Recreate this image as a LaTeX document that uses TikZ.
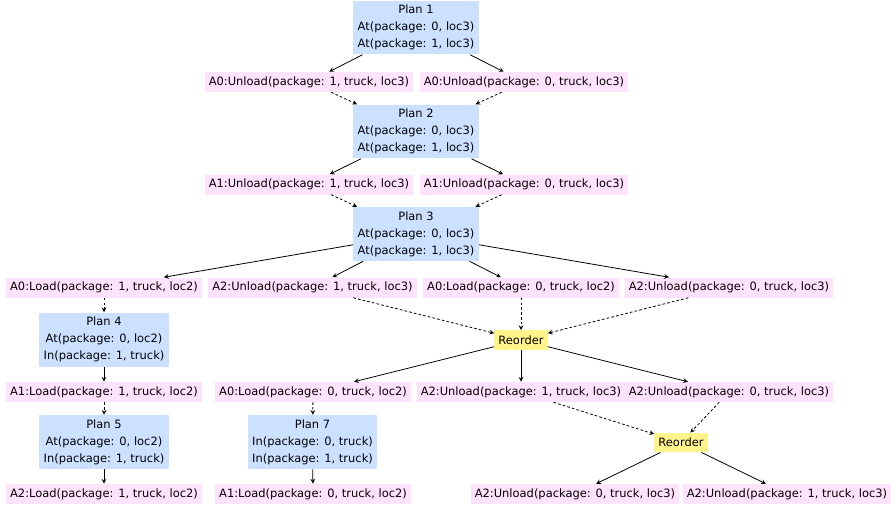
\documentclass[tikz,border=0pt]{standalone}
\usepackage{fontspec}
\setmainfont{DejaVu Sans}
\usepackage{tikz}
\usetikzlibrary{shapes.geometric, arrows}
\definecolor{planblue}{RGB}{204,225,255}
\definecolor{actpink}{RGB}{255,226,252}
\definecolor{reoyellow}{RGB}{255,244,140}
\tikzstyle{planbox} = [rectangle, minimum width=94pt, minimum height=39pt, fill=planblue, align=center]
\tikzstyle{actbox} = [rectangle, inner xsep=3pt, inner ysep=0pt, minimum height=15pt, fill=actpink]
\tikzstyle{reorderbox} = [rectangle, inner xsep=3pt, inner ysep=0pt, minimum height=14.5pt, fill=reoyellow]
\tikzstyle{arrow} = [line width=0.6pt,->,>=stealth]
\tikzstyle{dasharrow} = [arrow, dash pattern=on 2pt off 1.6pt]

\begin{document}
\begin{tikzpicture}[x=0.75pt, y=-0.75pt, font=\fontsize{8.6}{12.75}\selectfont]
  \useasboundingbox (0,0) rectangle (891,504);

  % plans
  \node (plan1) [planbox] at (416,27.5) {Plan 1\\At(package: 0, loc3)\\At(package: 1, loc3)};
  \node (plan2) [planbox] at (416,131.5) {Plan 2\\At(package: 0, loc3)\\At(package: 1, loc3)};
  \node (plan3) [planbox] at (416,234) {Plan 3\\At(package: 0, loc3)\\At(package: 1, loc3)};
  \node (plan4) [planbox] at (104,339.5) {Plan 4\\At(package: 0, loc2)\\In(package: 1, truck)};
  \node (plan5) [planbox] at (104,442) {Plan 5\\At(package: 0, loc2)\\In(package: 1, truck)};
  \node (plan7) [planbox] at (312.5,442) {Plan 7\\In(package: 0, truck)\\In(package: 1, truck)};

  % reorder nodes
  \node (reorder1) [reorderbox] at (521,340) {Reorder};
  \node (reorder2) [reorderbox] at (681,442.5) {Reorder};

  % actions
  \node (a0unloadA) [actbox] at (309,82) {A0:Unload(package: 1, truck, loc3)};
  \node (a0unloadB) [actbox] at (524,82) {A0:Unload(package: 0, truck, loc3)};
  \node (a1unloadA) [actbox] at (309,184.5) {A1:Unload(package: 1, truck, loc3)};
  \node (a1unloadB) [actbox] at (524,184.5) {A1:Unload(package: 0, truck, loc3)};
  \node (a0loadA) [actbox] at (104,287.5) {A0:Load(package: 1, truck, loc2)};
  \node (a2unloadA) [actbox] at (312.5,287.5) {A2:Unload(package: 1, truck, loc3)};
  \node (a0loadB) [actbox] at (521,287.5) {A0:Load(package: 0, truck, loc2)};
  \node (a2unloadB) [actbox] at (729,287.5) {A2:Unload(package: 0, truck, loc3)};
  \node (a1loadA) [actbox] at (104,392) {A1:Load(package: 1, truck, loc2)};
  \node (a0loadC) [actbox] at (313,392) {A0:Load(package: 0, truck, loc2)};
  \node (a2unloadC) [actbox] at (521,392) {A2:Unload(package: 1, truck, loc3)};
  \node (a2unloadD) [actbox] at (729,392) {A2:Unload(package: 0, truck, loc3)};
  \node (a2loadA) [actbox] at (104,494) {A2:Load(package: 1, truck, loc2)};
  \node (a1loadB) [actbox] at (313,494) {A1:Load(package: 0, truck, loc2)};
  \node (a2unloadE) [actbox] at (575,494) {A2:Unload(package: 0, truck, loc3)};
  \node (a2unloadF) [actbox] at (787,494) {A2:Unload(package: 1, truck, loc3)};

  % edges
  \draw [arrow] (plan1) -- (a0unloadA);
  \draw [arrow] (plan1) -- (a0unloadB);
  \draw [dasharrow] (a0unloadA) -- (plan2);
  \draw [dasharrow] (a0unloadB) -- (plan2);
  \draw [arrow] (plan2) -- (a1unloadA);
  \draw [arrow] (plan2) -- (a1unloadB);
  \draw [dasharrow] (a1unloadA) -- (plan3);
  \draw [dasharrow] (a1unloadB) -- (plan3);
  \draw [arrow] (plan3) -- (a0loadA);
  \draw [arrow] (plan3) -- (a2unloadA);
  \draw [arrow] (plan3) -- (a0loadB);
  \draw [arrow] (plan3) -- (a2unloadB);
  \draw [dasharrow] (a0loadA) -- (plan4);
  \draw [dasharrow] (a2unloadA) -- (reorder1);
  \draw [dasharrow] (a0loadB) -- (reorder1);
  \draw [dasharrow] (a2unloadB) -- (reorder1);
  \draw [arrow] (plan4) -- (a1loadA);
  \draw [arrow] (reorder1) -- (a0loadC);
  \draw [arrow] (reorder1) -- (a2unloadC);
  \draw [arrow] (reorder1) -- (a2unloadD);
  \draw [dasharrow] (a1loadA) -- (plan5);
  \draw [dasharrow] (a0loadC) -- (plan7);
  \draw [dasharrow] (a2unloadC) -- (reorder2);
  \draw [dasharrow] (a2unloadD) -- (reorder2);
  \draw [arrow] (plan5) -- (a2loadA);
  \draw [arrow] (plan7) -- (a1loadB);
  \draw [arrow] (reorder2) -- (a2unloadE);
  \draw [arrow] (reorder2) -- (a2unloadF);
\end{tikzpicture}
\end{document}
